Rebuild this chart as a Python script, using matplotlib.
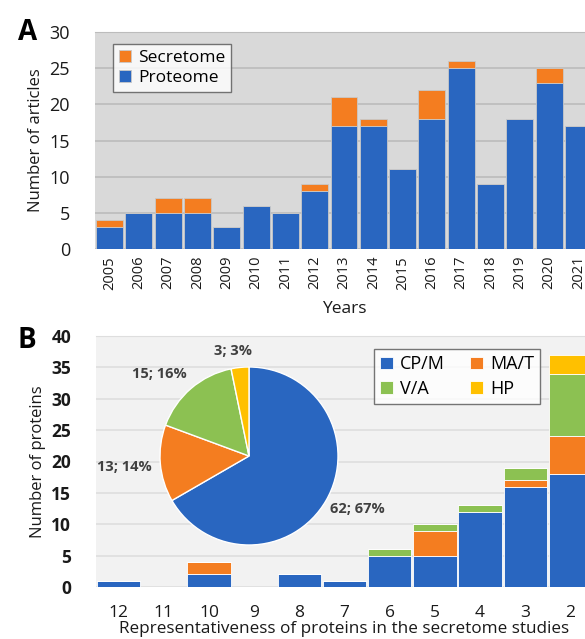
import numpy as np
import matplotlib.pyplot as plt

plt.rcParams['font.family'] = ['Open Sans', 'DejaVu Sans']

# panel A data
years = ['2005', '2006', '2007', '2008', '2009', '2010', '2011', '2012', '2013',
         '2014', '2015', '2016', '2017', '2018', '2019', '2020', '2021']
proteome = [3, 5, 5, 5, 3, 6, 5, 8, 17, 17, 11, 18, 25, 9, 18, 23, 17]
secretome = [1, 0, 2, 2, 0, 0, 0, 1, 4, 1, 0, 4, 1, 0, 0, 2, 0]

# panel B data
rep = ['12', '11', '10', '9', '8', '7', '6', '5', '4', '3', '2']
cpm = [1, 0, 2, 0, 2, 1, 5, 5, 12, 16, 18]
mat = [0, 0, 2, 0, 0, 0, 0, 4, 0, 1, 6]
va = [0, 0, 0, 0, 0, 0, 1, 1, 1, 2, 10]
hp = [0, 0, 0, 0, 0, 0, 0, 0, 0, 0, 3]
pie_labels = ['CP/M', 'MA/T', 'V/A', 'HP']
pie_vals = [sum(cpm), sum(mat), sum(va), sum(hp)]

BLUE = '#2966c0'
ORANGE = '#f47d20'
GREEN = '#8cc152'
YELLOW = '#ffc000'
TXT = '#1a1a1a'

W, H = 585, 639
fig = plt.figure(figsize=(W / 100, H / 100), dpi=100)


def px_axes(x0, y0, x1, y1):
    return fig.add_axes([x0 / W, 1 - y1 / H, (x1 - x0) / W, (y1 - y0) / H])


# ---------- A ----------
ax = px_axes(95, 32, 593, 249)
ax.set_facecolor('#d9d9d9')
x = np.arange(len(years))
ax.bar(x, proteome, width=0.92, color=BLUE, edgecolor='#c8c8c8', linewidth=0.6,
       label='Proteome', zorder=3)
ax.bar(x, secretome, width=0.92, bottom=proteome, color=ORANGE, edgecolor='#c8c8c8',
       linewidth=0.6, label='Secretome', zorder=3)
ax.set_xlim(-0.5, len(years) - 0.5)
ax.set_ylim(0, 30)
ax.set_yticks(range(0, 31, 5))
ax.yaxis.grid(True, color='#bcbcbc', linewidth=1.2, zorder=0)
ax.set_xticks(x)
ax.set_xticklabels(years, rotation=90, fontsize=10.5, color=TXT)
ax.tick_params(axis='y', labelsize=13, colors=TXT, length=0, pad=18)
ax.tick_params(axis='x', length=0, pad=5)
for s in ax.spines.values():
    s.set_visible(False)
ax.spines['top'].set_visible(True)
ax.spines['top'].set_color('#bcbcbc')
ax.set_ylabel('Number of articles', fontsize=12, color=TXT, labelpad=4)
ax.set_xlabel('Years', fontsize=12.5, color=TXT, labelpad=8)
h, l = ax.get_legend_handles_labels()
leg = ax.legend(h[::-1], l[::-1], loc='upper left', bbox_to_anchor=(0.036, 0.945),
                borderaxespad=0, fontsize=12.5, frameon=True, fancybox=False,
                handlelength=0.7, handleheight=0.7, handletextpad=0.4, borderpad=0.35,
                labelspacing=0.2)
leg.get_frame().set_edgecolor('#555555')
leg.get_frame().set_linewidth(1)
fig.text(18 / W, 1 - 33 / H, 'A', fontsize=20, fontweight='bold', va='center')

# ---------- B ----------
bx = px_axes(96, 336, 593, 587)
bx.set_facecolor('#f2f2f2')
xb = np.arange(len(rep))
b1 = np.array(cpm)
b2 = b1 + np.array(mat)
b3 = b2 + np.array(va)
kw = dict(width=0.96, edgecolor='white', linewidth=0.6, zorder=3)
r1 = bx.bar(xb, cpm, color=BLUE, label='CP/M', **kw)
r2 = bx.bar(xb, mat, bottom=b1, color=ORANGE, label='MA/T', **kw)
r3 = bx.bar(xb, va, bottom=b2, color=GREEN, label='V/A', **kw)
r4 = bx.bar(xb, hp, bottom=b3, color=YELLOW, label='HP', **kw)
bx.set_xlim(-0.5, len(rep) - 0.5)
bx.set_ylim(0, 40)
bx.set_yticks(range(0, 41, 5))
bx.yaxis.grid(True, color='#dedede', linewidth=1.2, zorder=0)
bx.set_xticks(xb)
bx.set_xticklabels(rep, fontsize=12.5, color=TXT)
bx.tick_params(axis='y', labelsize=12.5, colors=TXT, length=0, pad=18)
for t in bx.get_yticklabels():
    t.set_fontweight('bold')
bx.tick_params(axis='x', length=0, pad=13)
for s in bx.spines.values():
    s.set_visible(False)
bx.spines['top'].set_visible(True)
bx.spines['top'].set_color('#dedede')
bx.set_ylabel('Number of proteins', fontsize=12, color=TXT, labelpad=4)
bx.set_xlabel('Representativeness of proteins in the secretome studies', fontsize=12.3,
              color=TXT, labelpad=0)
leg2 = bx.legend([r1, r3, r2, r4], ['CP/M', 'V/A', 'MA/T', 'HP'], loc='upper left',
                 bbox_to_anchor=(0.559, 0.948), borderaxespad=0, ncol=2, fontsize=13,
                 frameon=True, fancybox=False, handlelength=0.7, handleheight=0.7,
                 handletextpad=0.4, borderpad=0.35, labelspacing=0.35, columnspacing=1.4)
leg2.get_frame().set_edgecolor('#555555')
leg2.get_frame().set_linewidth(1)
fig.text(18 / W, 1 - 340 / H, 'B', fontsize=20, fontweight='bold', va='center')

# pie inset
px = px_axes(249 - 89, 456 - 89, 249 + 89, 456 + 89)
wedges, _ = px.pie(pie_vals, colors=[BLUE, ORANGE, GREEN, YELLOW], startangle=90,
                   counterclock=False, radius=1,
                   wedgeprops=dict(edgecolor='white', linewidth=1))
px.set_xlim(-1, 1)
px.set_ylim(-1, 1)
total = sum(pie_vals)
dists = [1.36, 1.40, 1.37, 1.19]
shifts = [4, 0, 7, 3]
for w, v, d, sh in zip(wedges, pie_vals, dists, shifts):
    ang = np.deg2rad((w.theta1 + w.theta2) / 2 + sh)
    px.text(d * np.cos(ang), d * np.sin(ang), f'{v}; {round(100 * v / total)}%',
            ha='center', va='center', fontsize=10.5, fontweight='bold', color='#404040',
            clip_on=False)

fig.savefig('out.png', dpi=100)
